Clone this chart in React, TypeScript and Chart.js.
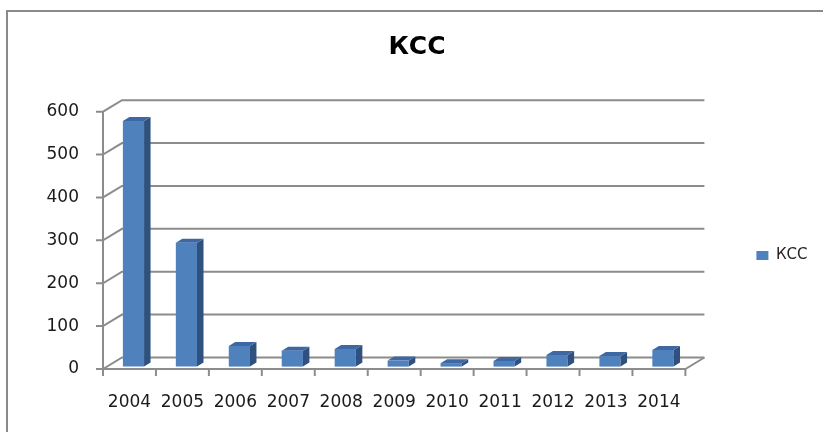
import React, { useEffect, useRef } from "react";
import { Chart, registerables } from "chart.js";

Chart.register(...registerables);

const TITLE = "КСС";
const SERIES_NAME = "КСС";
const YEARS = ["2004", "2005", "2006", "2007", "2008", "2009", "2010", "2011", "2012", "2013", "2014"];
const VALUES = [573, 289, 48, 37, 41, 14, 8, 13, 27, 25, 39];
const Y_MIN = 0;
const Y_MAX = 600;
const Y_STEP = 100;

const FONT = "'DejaVu Sans', sans-serif";
const GRID = "#8c8c8c";
const FRONT = "#4f81bd";
const TOP = "#3d68a3";
const SIDE = "#2f5180";
const DX = 19; // wall depth
const DY = 11.5;
const BX = 4; // bar offset into depth
const BY = 2.4;
const BDX = 6.5; // bar depth
const BDY = 4;

const depthPlugin = {
  id: "depth3d",
  beforeDatasetsDraw(chart: any) {
    const { ctx, chartArea: a, scales } = chart;
    const y = scales.y;
    ctx.save();
    ctx.strokeStyle = GRID;
    ctx.lineWidth = 2;
    ctx.lineCap = "butt";
    y.ticks.forEach((t: any) => {
      const py = y.getPixelForValue(t.value);
      ctx.beginPath();
      ctx.moveTo(a.left - 7, py);
      ctx.lineTo(a.left, py);
      ctx.lineTo(a.left + DX, py - DY);
      ctx.lineTo(a.right + DX, py - DY);
      ctx.stroke();
    });
    // vertical axis
    ctx.beginPath();
    ctx.moveTo(a.left, a.top);
    ctx.lineTo(a.left, a.bottom);
    ctx.stroke();
    // floor front edge and right edge
    ctx.beginPath();
    ctx.moveTo(a.left, a.bottom);
    ctx.lineTo(a.right, a.bottom);
    ctx.lineTo(a.right + DX, a.bottom - DY);
    ctx.stroke();
    // x ticks at category boundaries
    const n = YEARS.length;
    const step = (a.right - a.left) / n;
    for (let k = 0; k <= n; k++) {
      const px = a.left + k * step;
      ctx.beginPath();
      ctx.moveTo(px, a.bottom);
      ctx.lineTo(px, a.bottom + 7);
      ctx.stroke();
    }
    ctx.restore();
    ctx.save();
    ctx.translate(BX, -BY);
  },
  afterDatasetsDraw(chart: any) {
    const { ctx } = chart;
    const meta = chart.getDatasetMeta(0);
    meta.data.forEach((bar: any) => {
      const { x, y, base, width } = bar.getProps(["x", "y", "base", "width"], true);
      const l = x - width / 2;
      const r = x + width / 2;
      // side face
      ctx.fillStyle = SIDE;
      ctx.beginPath();
      ctx.moveTo(r, y);
      ctx.lineTo(r + BDX, y - BDY);
      ctx.lineTo(r + BDX, base - BDY);
      ctx.lineTo(r, base);
      ctx.closePath();
      ctx.fill();
      // top face
      ctx.fillStyle = TOP;
      ctx.beginPath();
      ctx.moveTo(l, y);
      ctx.lineTo(l + BDX, y - BDY);
      ctx.lineTo(r + BDX, y - BDY);
      ctx.lineTo(r, y);
      ctx.closePath();
      ctx.fill();
    });
    ctx.restore();
  },
};

export default function App() {
  const ref = useRef<HTMLCanvasElement | null>(null);

  useEffect(() => {
    const canvas = ref.current;
    if (!canvas) return;
    const chart = new Chart(canvas, {
      type: "bar",
      data: {
        labels: YEARS,
        datasets: [
          {
            label: SERIES_NAME,
            data: VALUES,
            backgroundColor: FRONT,
            borderWidth: 0,
            barPercentage: 0.4,
            categoryPercentage: 1,
            clip: false as any,
          },
        ],
      },
      options: {
        responsive: false,
        animation: false,
        layout: { padding: { top: 12, left: 16.5, right: 5.5, bottom: 13 } },
        plugins: {
          title: {
            display: true,
            text: TITLE,
            color: "#000",
            font: { family: FONT, size: 25, weight: "bold" },
            padding: { top: 20, bottom: 49.7 },
          },
          legend: {
            display: true,
            position: "right",
            labels: {
              boxWidth: 12,
              boxHeight: 9,
              padding: 10,
              color: "#222",
              font: { family: FONT, size: 15 },
            },
            title: {
              display: true,
              text: " ",
              font: { size: 1 },
              padding: { top: 79, bottom: 0 },
            },
          },
          tooltip: { enabled: false },
        },
        scales: {
          x: {
            grid: { display: false, drawTicks: false },
            border: { display: false },
            ticks: {
              color: "#1a1a1a",
              font: { family: FONT, size: 17 },
              padding: 23,
              maxRotation: 0,
              autoSkip: false,
            },
            afterFit(s: any) {
              s.height = 50;
            },
          },
          y: {
            min: Y_MIN,
            max: Y_MAX,
            grid: { display: false, drawTicks: false },
            border: { display: false },
            ticks: {
              stepSize: Y_STEP,
              color: "#1a1a1a",
              font: { family: FONT, size: 17 },
              padding: 24,
            },
            afterFit(s: any) {
              s.width = 86.5;
            },
          },
          yR: {
            position: "right",
            display: true,
            min: 0,
            max: 1,
            grid: { display: false, drawTicks: false },
            border: { display: false },
            ticks: { display: false },
            afterFit(s: any) {
              s.width = 61;
            },
          },
        },
      },
      plugins: [depthPlugin],
    } as any);
    return () => chart.destroy();
  }, []);

  return (
    <div style={{ position: "absolute", left: 0, top: 0, width: 823, height: 432, background: "#fff", overflow: "hidden" }}>
      <div
        style={{
          position: "absolute",
          left: 6,
          top: 10,
          width: 820,
          height: 430,
          borderTop: "2px solid #8a8a8a",
          borderLeft: "2px solid #8a8a8a",
        }}
      />
      <canvas ref={ref} width={823} height={432} style={{ position: "absolute", left: 0, top: 0, width: 823, height: 432 }} />
    </div>
  );
}
